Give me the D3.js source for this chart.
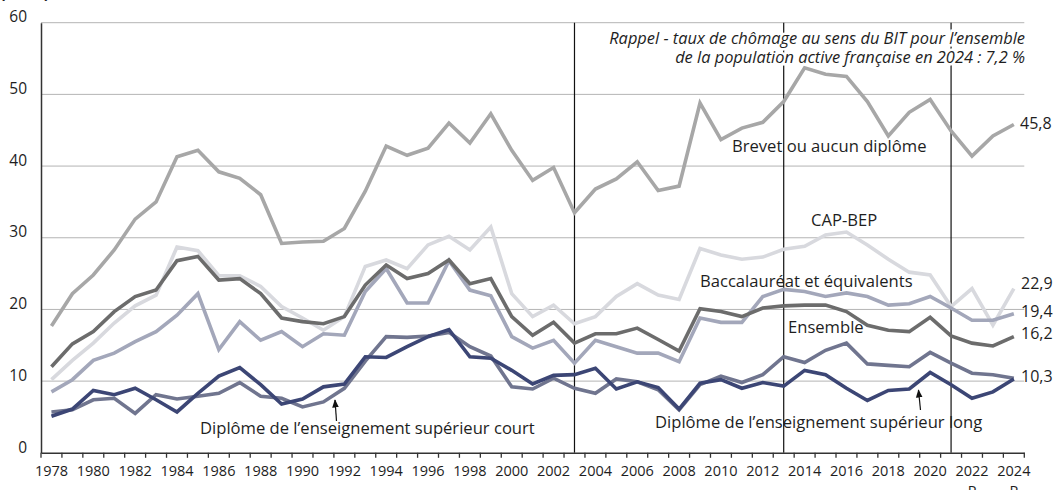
<!DOCTYPE html>
<html>
<head>
<meta charset="utf-8">
<script src="https://cdn.jsdelivr.net/npm/d3@7"></script>
<style>
  body { margin: 0; background: #fff; }
  svg { display: block; font-family: "Open Sans", sans-serif; }
</style>
</head>
<body>
<div id="chart"></div>
<script>
// années 1978 -> 2024
const years = d3.range(1978, 2025).map(String);
const yTicks = [0, 10, 20, 30, 40, 50, 60];
const breakYears = ["2003", "2013", "2021"];
const provisional = ["2022", "2024"];

const brevet = [17.7, 22.2, 24.8, 28.3, 32.6, 35.0, 41.3, 42.2, 39.2, 38.3, 36.0, 29.2, 29.4, 29.5, 31.3, 36.5,
  42.8, 41.5, 42.5, 46.0, 43.2, 47.3, 42.2, 38.0, 39.8, 33.5, 36.8, 38.2, 40.6, 36.6, 37.2, 48.8,
  43.7, 45.3, 46.1, 49.0, 53.7, 52.8, 52.5, 49.0, 44.2, 47.5, 49.3, 44.9, 41.4, 44.2, 45.8];
const capBep = [10.2, 12.9, 15.3, 18.1, 20.5, 22.0, 28.7, 28.2, 24.7, 24.7, 23.2, 20.4, 18.8, 17.1, 19.0, 26.0,
  26.9, 25.7, 29.0, 30.2, 28.3, 31.5, 22.2, 19.0, 20.6, 18.0, 19.0, 21.8, 23.6, 22.0, 21.4, 28.5,
  27.6, 27.0, 27.3, 28.4, 28.8, 30.4, 30.8, 29.0, 27.0, 25.2, 24.8, 20.4, 22.9, 17.8, 22.9];
const ensemble = [12.0, 15.2, 16.9, 19.7, 21.8, 22.7, 26.8, 27.4, 24.1, 24.3, 22.2, 18.8, 18.3, 18.0, 19.0, 23.4,
  26.2, 24.3, 25.0, 26.9, 23.6, 24.3, 19.0, 16.4, 18.2, 15.3, 16.6, 16.6, 17.4, 15.8, 14.2, 20.1,
  19.7, 19.0, 20.2, 20.5, 20.6, 20.6, 19.7, 17.8, 17.1, 16.9, 18.9, 16.3, 15.3, 14.9, 16.2];
const bac = [8.5, 10.2, 12.9, 13.9, 15.5, 16.9, 19.2, 22.2, 14.4, 18.3, 15.7, 16.9, 14.8, 16.6, 16.4, 22.5,
  25.7, 20.9, 20.9, 26.8, 22.7, 21.9, 16.2, 14.6, 15.7, 12.5, 15.7, 14.8, 13.9, 13.9, 12.7, 18.8,
  18.2, 18.2, 21.8, 22.8, 22.5, 21.8, 22.3, 21.8, 20.6, 20.8, 21.8, 20.2, 18.5, 18.5, 19.4];
const supCourt = [5.7, 6.0, 7.4, 7.6, 5.5, 8.1, 7.5, 7.9, 8.3, 9.8, 7.9, 7.6, 6.4, 7.1, 9.0, 12.8,
  16.2, 16.1, 16.3, 16.8, 14.8, 13.5, 9.2, 8.9, 10.4, 9.0, 8.3, 10.3, 9.9, 8.8, 6.0, 9.5,
  10.7, 9.8, 10.9, 13.4, 12.6, 14.3, 15.3, 12.4, 12.2, 12.0, 14.0, 12.5, 11.1, 10.9, 10.4];
const supLong = [5.1, 6.1, 8.7, 8.1, 9.0, 7.4, 5.7, 8.3, 10.7, 11.9, 9.5, 6.8, 7.5, 9.2, 9.6, 13.4,
  13.3, 14.8, 16.2, 17.2, 13.4, 13.2, 11.5, 9.6, 10.8, 10.9, 11.8, 8.9, 9.9, 9.1, 6.1, 9.7,
  10.2, 9.0, 9.8, 9.3, 11.5, 10.9, 9.0, 7.3, 8.7, 8.9, 11.2, 9.5, 7.6, 8.5, 10.3];

const series = [
  {name: "CAP-BEP", values: capBep, color: "#d8d9de"},
  {name: "Brevet ou aucun diplôme", values: brevet, color: "#a7a7a7"},
  {name: "Baccalauréat et équivalents", values: bac, color: "#a3a7ba"},
  {name: "Ensemble", values: ensemble, color: "#6c6c6c"},
  {name: "Diplôme de l’enseignement supérieur court", values: supCourt, color: "#70758f"},
  {name: "Diplôme de l’enseignement supérieur long", values: supLong, color: "#3c4675"}
];

const width = 1054, height = 490;
const marginLeft = 41, plotRight = 1024.3, plotTop = 22.7, plotBottom = 452.8;

const svg = d3.select("#chart").append("svg")
  .attr("width", width)
  .attr("height", height);

const x = d3.scaleBand().domain(years).range([marginLeft, plotRight]).padding(0);
const y = d3.scaleLinear().domain([0, 60]).range([plotBottom, plotTop]);
const cx = d => x(d) + x.bandwidth() / 2;

// grille horizontale
svg.append("g")
  .selectAll("line")
  .data(yTicks.filter(d => d > 0))
  .join("line")
  .attr("x1", marginLeft).attr("x2", plotRight)
  .attr("y1", d => y(d)).attr("y2", d => y(d))
  .attr("stroke", "#b4b4b4")
  .attr("stroke-width", 1);

// axe Y
const axisY = svg.append("g")
  .attr("transform", `translate(${marginLeft},0)`)
  .call(d3.axisLeft(y).tickValues(yTicks).tickSize(0).tickPadding(14));
axisY.select(".domain").attr("stroke", "#333").attr("stroke-width", 1.5);
axisY.selectAll("text")
  .attr("dy", "-0.05em")
  .attr("fill", "#1e1e1e")
  .style("font-size", "15.5px")
  .style("font-family", "Open Sans, sans-serif");

// lignes verticales de rupture de série
svg.append("g")
  .selectAll("line")
  .data(breakYears)
  .join("line")
  .attr("x1", d => cx(d)).attr("x2", d => cx(d))
  .attr("y1", plotTop).attr("y2", plotBottom)
  .attr("stroke", "#111")
  .attr("stroke-width", 1.2);

// courbes
const line = d3.line()
  .x((d, i) => cx(years[i]))
  .y(d => y(d));

svg.append("g")
  .selectAll("path")
  .data(series)
  .join("path")
  .attr("d", d => line(d.values))
  .attr("fill", "none")
  .attr("stroke", d => d.color)
  .attr("stroke-width", 3.6)
  .attr("stroke-linejoin", "miter");

// axe X : graduations aux limites des années
const axisX = svg.append("g")
  .attr("transform", `translate(0,${plotBottom})`)
  .call(d3.axisBottom(x).tickSize(0).tickPadding(13)
    .tickFormat(d => (+d % 2 === 0 ? d : "")));
axisX.select(".domain").attr("stroke", "#333").attr("stroke-width", 1.5);
axisX.selectAll("text")
  .attr("fill", "#1e1e1e")
  .style("font-size", "14.5px")
  .style("font-family", "Open Sans, sans-serif");

axisX.append("g")
  .selectAll("line")
  .data(years.map(d => x(d)).concat([plotRight]))
  .join("line")
  .attr("x1", d => d).attr("x2", d => d)
  .attr("y1", 0).attr("y2", 5)
  .attr("stroke", "#333")
  .attr("stroke-width", 1.3);

svg.append("g")
  .selectAll("text")
  .data(provisional)
  .join("text")
  .attr("x", d => cx(d))
  .attr("y", 496)
  .attr("text-anchor", "middle")
  .attr("fill", "#1e1e1e")
  .style("font-size", "14.5px")
  .text("P");

// unité
svg.append("text")
  .attr("x", 0).attr("y", -1)
  .attr("fill", "#1e1e1e")
  .style("font-size", "16px")
  .style("font-weight", "bold")
  .text("(en %)");

// note
const note = svg.append("g")
  .attr("text-anchor", "end")
  .style("font-size", "16.4px")
  .style("font-style", "italic")
  .attr("fill", "#1e1e1e");
[["Rappel - taux de chômage au sens du BIT pour l’ensemble", 38.5],
 ["de la population active française en 2024 : 7,2 %", 57]].forEach(t => {
  note.append("text")
    .attr("x", 1025).attr("y", t[1]).attr("dy", "0.35em")
    .attr("stroke", "#fff").attr("stroke-width", 5)
    .attr("paint-order", "stroke")
    .text(t[0]);
});

// étiquettes des séries
const labels = [
  {text: "Brevet ou aucun diplôme", x: 732, y: 146},
  {text: "CAP-BEP", x: 811, y: 220},
  {text: "Baccalauréat et équivalents", x: 700, y: 281},
  {text: "Ensemble", x: 788, y: 327},
  {text: "Diplôme de l’enseignement supérieur court", x: 200, y: 428},
  {text: "Diplôme de l’enseignement supérieur long", x: 655, y: 422}
];
svg.append("g")
  .selectAll("text")
  .data(labels)
  .join("text")
  .attr("x", d => d.x).attr("y", d => d.y).attr("dy", "0.35em")
  .attr("fill", "#1e1e1e")
  .style("font-size", "16.6px")
  .text(d => d.text);

// valeurs finales
const endLabels = [
  {v: "45,8", x: 1020, y: 123},
  {v: "22,9", x: 1021, y: 283},
  {v: "19,4", x: 1021, y: 311},
  {v: "16,2", x: 1021, y: 333},
  {v: "10,3", x: 1021, y: 376}
];
svg.append("g")
  .selectAll("text")
  .data(endLabels)
  .join("text")
  .attr("x", d => d.x).attr("y", d => d.y).attr("dy", "0.35em")
  .attr("fill", "#1e1e1e")
  .style("font-size", "16px")
  .text(d => d.v);

// flèches
svg.append("defs").append("marker")
  .attr("id", "arrow")
  .attr("viewBox", "0 0 10 10")
  .attr("refX", 9).attr("refY", 5)
  .attr("markerWidth", 7).attr("markerHeight", 7)
  .attr("orient", "auto")
  .append("path")
  .attr("d", "M0,1 L10,5 L0,9 Z")
  .attr("fill", "#111");

const arrows = [
  {x1: 336.5, y1: 421, x2: 335, y2: 400},
  {x1: 920.5, y1: 410, x2: 918.5, y2: 390}
];
svg.append("g")
  .selectAll("line")
  .data(arrows)
  .join("line")
  .attr("x1", d => d.x1).attr("y1", d => d.y1)
  .attr("x2", d => d.x2).attr("y2", d => d.y2)
  .attr("stroke", "#111")
  .attr("stroke-width", 1.2)
  .attr("marker-end", "url(#arrow)");
</script>
</body>
</html>
